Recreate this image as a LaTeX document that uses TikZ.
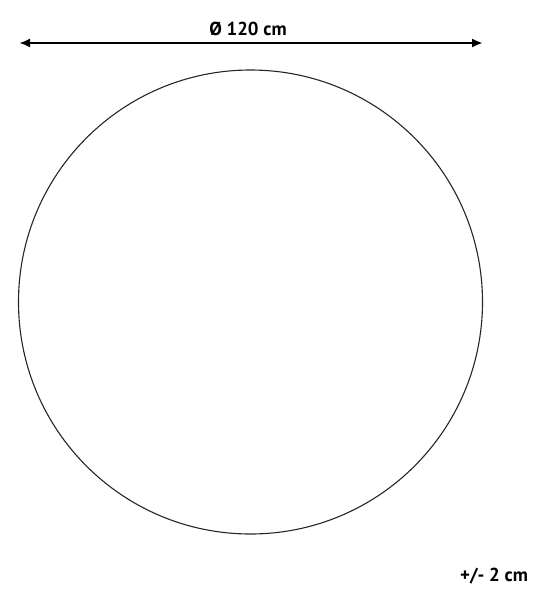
\documentclass[tikz,border=0pt]{standalone}
\usepackage{fontspec}
\setmainfont{PT Sans}
\usetikzlibrary{arrows.meta, positioning}

\begin{document}
\begin{tikzpicture}[x=1pt, y=-1pt]
\tikzset{dimline/.style={line width=2.2pt, {Latex[length=11pt,width=9pt]}-{Latex[length=11pt,width=9pt]}},
		rug/.style={circle, draw=black!85, line width=1.1pt, minimum size=464pt, inner sep=0pt},
		label/.style={font=\bfseries\fontsize{18.8}{22}\selectfont, inner sep=0pt}}
\useasboundingbox (0,0) rectangle (545,600);
\node[rug] (C) at (250.5,302) {};
\coordinate (L) at (19,43);
\coordinate (R) at (483,43);
\draw[dimline] (L) -- (R);
\node[label] (D) at (248,29) {Ø 120 cm};
\node[label] (T) at (494,576) {+/- 2 cm};
\end{tikzpicture}
\end{document}
